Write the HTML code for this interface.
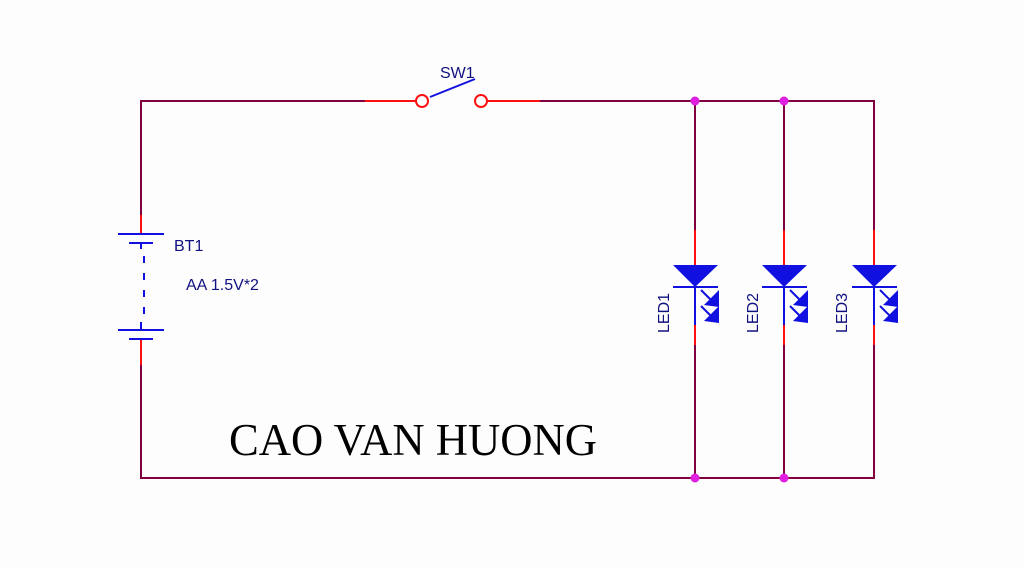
<!DOCTYPE html>
<html><head><meta charset="utf-8"><style>body{margin:0;background:#fff}svg{display:block}</style></head><body>
<svg width="1024" height="567" viewBox="0 0 1024 567" xmlns="http://www.w3.org/2000/svg">
<rect width="1024" height="567" fill="#fdfdfd"/>
<g stroke="#800040" stroke-width="2" fill="none">
<polyline points="365,101 141,101 141,215"/>
<polyline points="141,365 141,478 874,478 874,345"/>
<polyline points="540,101 874,101 874,230"/>
<line x1="695" y1="101" x2="695" y2="230"/><line x1="784" y1="101" x2="784" y2="230"/>
<line x1="695" y1="345" x2="695" y2="478"/><line x1="784" y1="345" x2="784" y2="478"/>
</g>
<g stroke="#ff1010" stroke-width="2">
<line x1="141" y1="215" x2="141" y2="234"/><line x1="141" y1="340" x2="141" y2="365"/>
<line x1="365" y1="101" x2="416" y2="101"/><line x1="487" y1="101" x2="540" y2="101"/>
<line x1="695" y1="230" x2="695" y2="265"/><line x1="784" y1="230" x2="784" y2="265"/><line x1="874" y1="230" x2="874" y2="265"/>
<line x1="695" y1="325" x2="695" y2="345"/><line x1="784" y1="325" x2="784" y2="345"/><line x1="874" y1="325" x2="874" y2="345"/>
</g>
<g stroke="#1010e0" stroke-width="2" fill="none">
<line x1="118" y1="234" x2="164" y2="234"/><line x1="129" y1="243" x2="153" y2="243"/>
<line x1="141" y1="243" x2="141" y2="249"/>
<line x1="144" y1="256" x2="144" y2="320" stroke-dasharray="7,10"/>
<line x1="141" y1="322" x2="141" y2="330"/>
<line x1="118" y1="330" x2="164" y2="330"/><line x1="129" y1="339" x2="153" y2="339"/>
<line x1="430" y1="97" x2="475" y2="79"/>
</g>
<circle cx="422" cy="101" r="6" fill="#fff" stroke="#ff1010" stroke-width="2"/>
<circle cx="481" cy="101" r="6" fill="#fff" stroke="#ff1010" stroke-width="2"/>
<g id="led">
<polygon points="673,265 718,265 695,287" fill="#1010e0"/>
<line x1="673" y1="287" x2="718" y2="287" stroke="#1010e0" stroke-width="2"/>
<line x1="695" y1="287" x2="695" y2="325" stroke="#1010e0" stroke-width="2"/>
<line x1="701" y1="290" x2="714" y2="303" stroke="#1010e0" stroke-width="2"/>
<polygon points="719,290 719,307 704,305" fill="#1010e0"/>
<line x1="701" y1="306" x2="714" y2="319" stroke="#1010e0" stroke-width="2"/>
<polygon points="719,306 719,323 704,321" fill="#1010e0"/>
</g>
<use href="#led" x="89"/><use href="#led" x="179"/>
<g fill="#e020e0"><circle cx="695" cy="101" r="4.5"/><circle cx="784" cy="101" r="4.5"/><circle cx="695" cy="478" r="4.5"/><circle cx="784" cy="478" r="4.5"/></g>
<g font-family="Liberation Sans, sans-serif" font-size="16" fill="#101080">
<text x="440" y="78">SW1</text>
<text x="174" y="251">BT1</text>
<text x="186" y="290">AA 1.5V*2</text>
<text transform="translate(669,333) rotate(-90)">LED1</text>
<text transform="translate(758,333) rotate(-90)">LED2</text>
<text transform="translate(847,333) rotate(-90)">LED3</text>
</g>
<text x="229" y="455" font-family="Liberation Serif, serif" font-size="45" textLength="368" lengthAdjust="spacingAndGlyphs" fill="#000">CAO VAN HUONG</text>
</svg>
</body></html>
